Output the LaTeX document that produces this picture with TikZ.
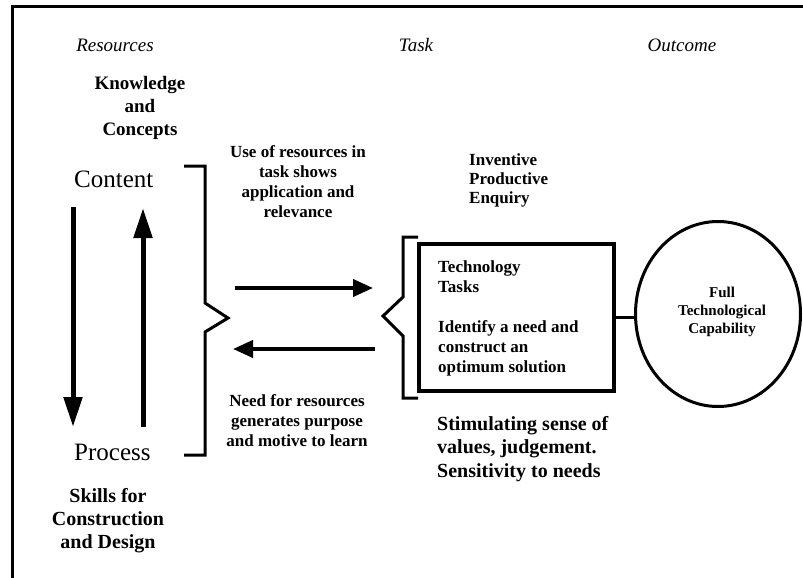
\documentclass[tikz,border=0pt]{standalone}
\usepackage{fontspec}
\setmainfont{Liberation Serif}
\usepackage{tikz}
\usetikzlibrary{shapes.geometric, arrows.meta}
\tikzstyle{heading} = [font=\fontsize{19}{23}\selectfont\itshape, anchor=base, inner sep=0]
\tikzstyle{bigword} = [font=\fontsize{25}{30}\selectfont, anchor=base west, inner sep=0]
\tikzstyle{note} = [font=\bfseries\fontsize{17}{20}\selectfont, align=center, anchor=base, inner sep=0]
\tikzstyle{bignote} = [font=\bfseries\fontsize{20}{23}\selectfont, align=center, anchor=base, inner sep=0]
\tikzstyle{arrow} = [line width=4pt, -{Triangle[length=20pt,width=17pt]}]
\tikzstyle{tallarrow} = [line width=5pt, -{Triangle[length=30pt,width=18pt]}]
\tikzstyle{brace} = [line width=3pt, miter limit=20]

\begin{document}
\begin{tikzpicture}[x=1pt, y=-1pt]
\useasboundingbox (0,0) rectangle (803,578);

% Frame
\draw [line width=3pt] (12,578) -- (12,7) -- (803,7);

% Headings
\node (resources) [heading] at (115,52) {Resources};
\node (task) [heading] at (416,52) {Task};
\node (outcome) [heading] at (682,52) {Outcome};

% Resources column (multi-line nodes sit on their last baseline)
\node (knowledge) [bignote, font=\bfseries\fontsize{19}{23}\selectfont] at (140,135) {Knowledge\\and\\Concepts};
\node (content) [bigword] at (74,187) {Content};
\node (process) [bigword] at (74,460) {Process};
\node (skills) [bignote] at (108,548) {Skills for\\Construction\\and Design};

\coordinate (downtop) at (73,207);
\coordinate (downend) at (73,427);
\coordinate (upbottom) at (143,427);
\coordinate (uptop) at (143,208);
\draw [tallarrow] (downtop) -- (downend);
\draw [tallarrow] (upbottom) -- (uptop);

% Braces
\draw [brace] (184,166) -- (205,166) -- (205,303) -- (228,318) -- (205,332) -- (205,455) -- (184,455);
\draw [brace] (418,237) -- (403,237) -- (403,297) -- (383,316) -- (403,336) -- (403,398) -- (418,398);

% Middle notes
\node (usenote) [note] at (298,217) {Use of resources in\\task shows\\application and\\relevance};
\node (neednote) [note] at (297,446) {Need for resources\\generates purpose\\and motive to learn};

\coordinate (useL) at (235,288);
\coordinate (useR) at (373,288);
\coordinate (needR) at (375,349);
\coordinate (needL) at (233,349);
\draw [arrow] (useL) -- (useR);
\draw [arrow] (needR) -- (needL);

% Task
\node (enquiry) [note, align=left, anchor=base west, font=\bfseries\fontsize{17}{19}\selectfont] at (469,203) {Inventive\\Productive\\Enquiry};
\node (taskbox) [rectangle, draw, line width=4pt, minimum width=195pt, minimum height=147pt] at (516.5,317.5) {};
\node (tasktext) [note, align=left, anchor=base west] at (438,372) {Technology\\Tasks\\[20pt]Identify a need and\\construct an\\optimum solution};
\node (values) [bignote, align=left, anchor=base west, font=\bfseries\fontsize{20}{23.5}\selectfont] at (437,477) {Stimulating sense of\\values, judgement.\\Sensitivity to needs};

% Outcome
\node (capability) [ellipse, draw, line width=3pt, minimum width=165pt, minimum height=185pt] at (718,314) {};
\node (capabilitytext) [note, font=\bfseries\fontsize{15}{18}\selectfont] at (722,333) {Full\\Technological\\Capability};
\draw [line width=3pt] (taskbox.east) -- (taskbox.east -| capability.west);

\end{tikzpicture}
\end{document}
